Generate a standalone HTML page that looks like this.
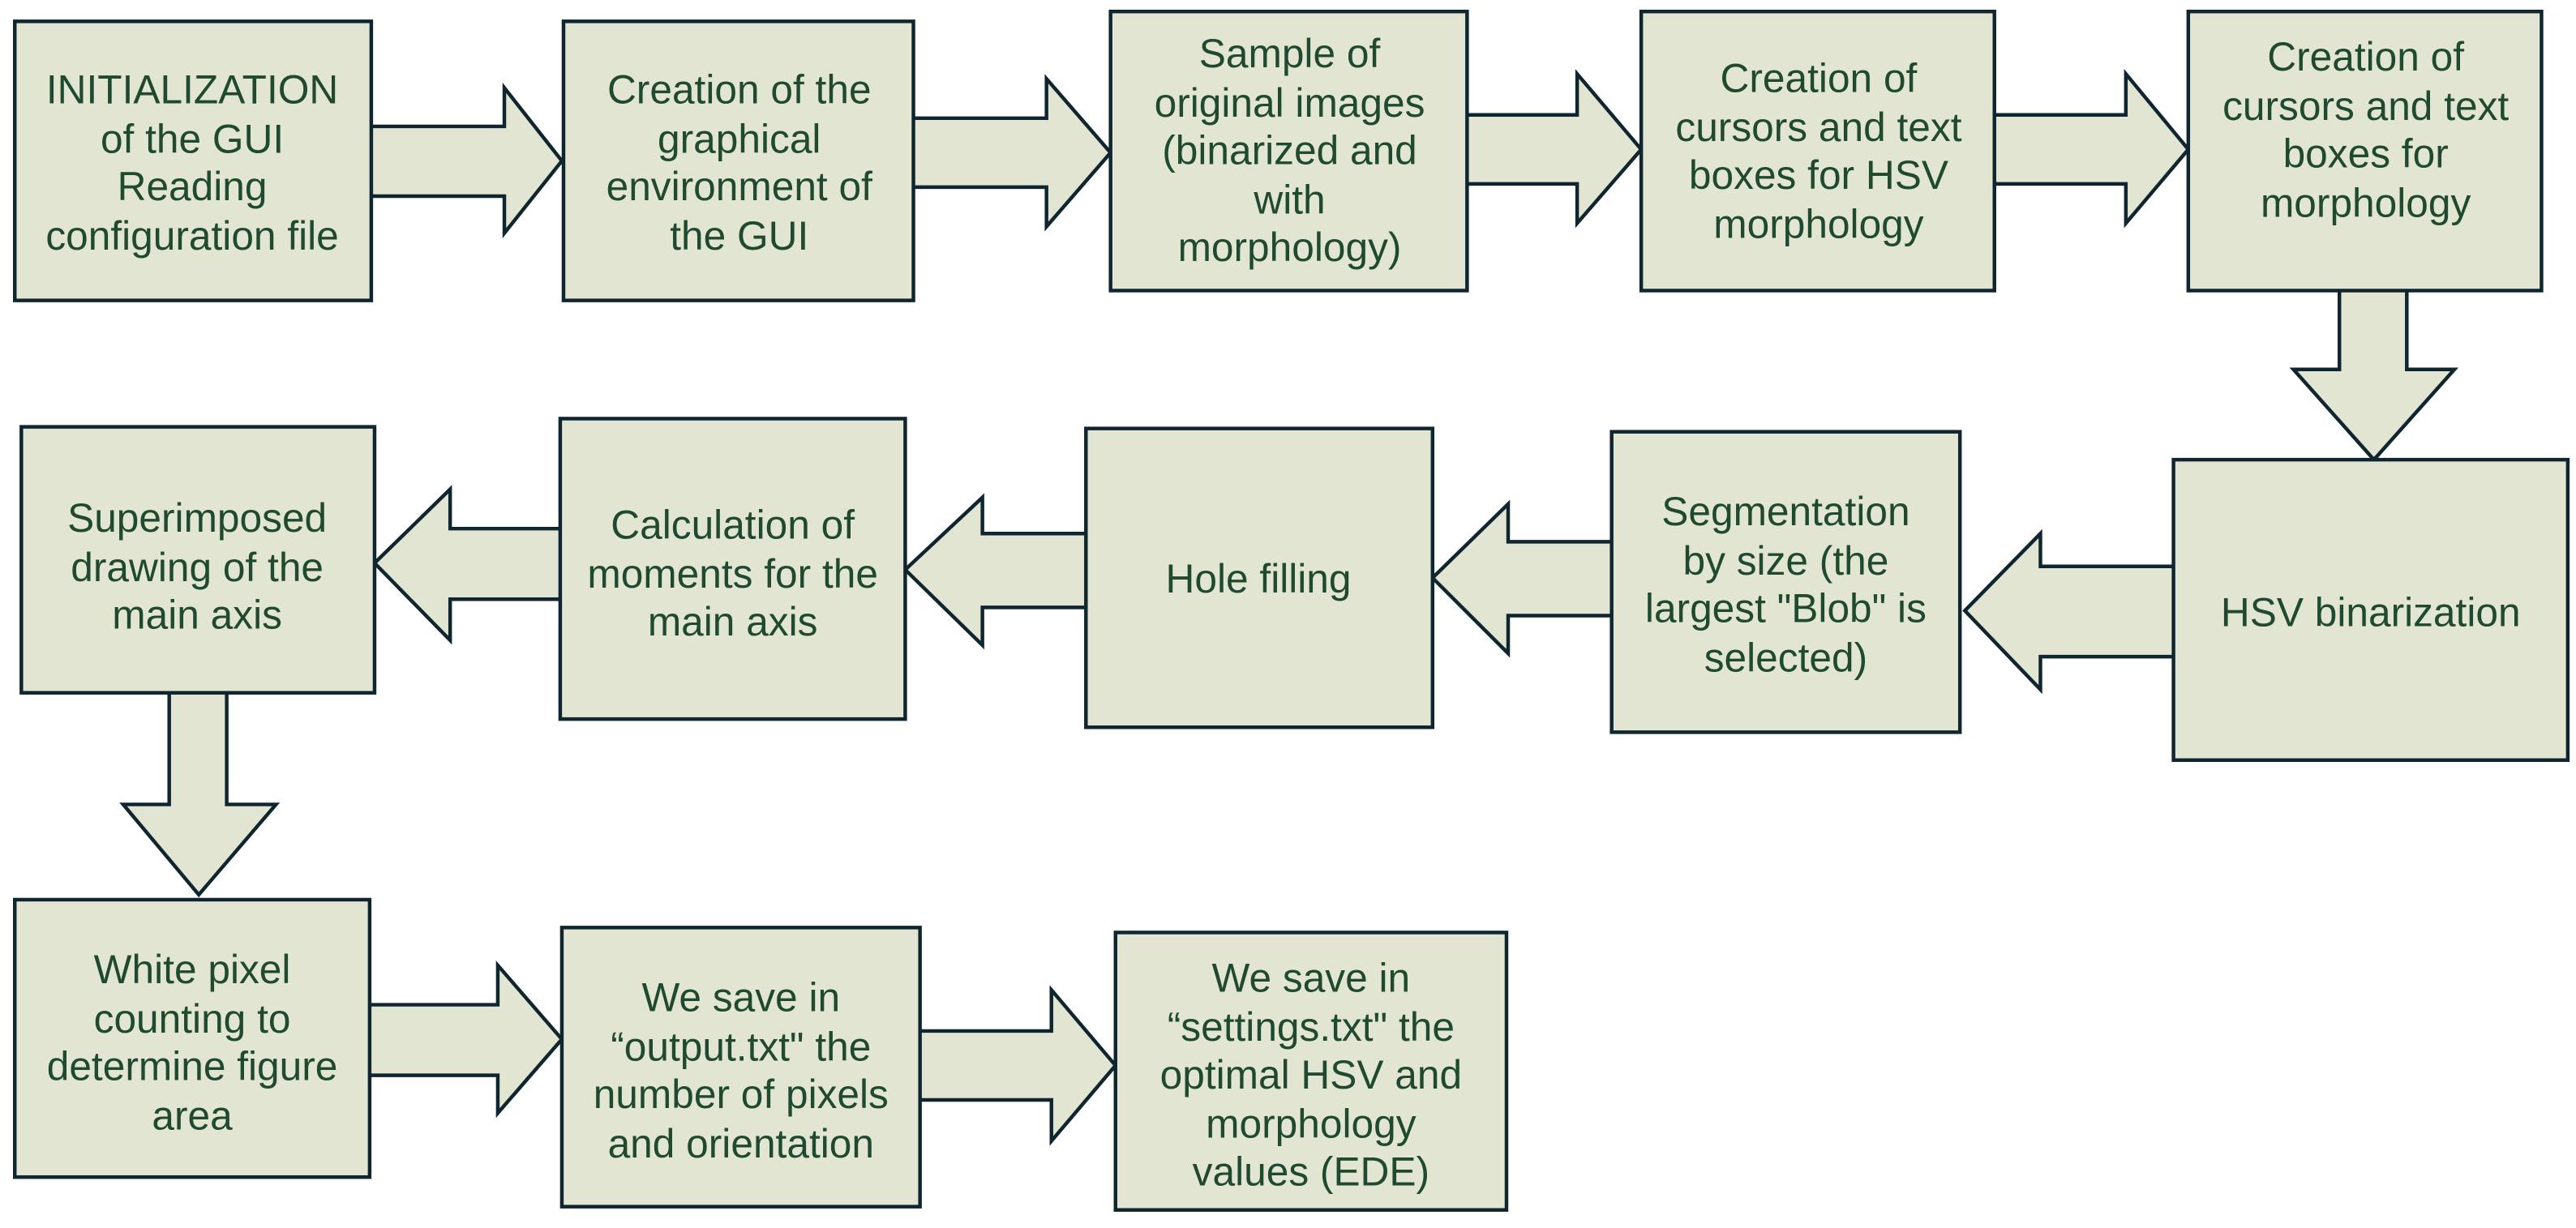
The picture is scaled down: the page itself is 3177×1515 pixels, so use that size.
<!DOCTYPE html>
<html><head><meta charset="utf-8"><style>
html,body{margin:0;padding:0;background:#fff;width:3177px;height:1515px;overflow:hidden}
svg{display:block}
text{font-family:"Liberation Sans",Arial,sans-serif;font-size:24.5px;fill:#1f4a30;text-anchor:middle}
.b{fill:#e3e5d3;stroke:#0f2530;stroke-width:2.2}
</style></head><body>
<svg width="3177" height="1515" viewBox="0 0 1568 748" preserveAspectRatio="none" xmlns="http://www.w3.org/2000/svg">
<polygon class="b" points="220,77 307,77 307,53.5 342,98 307,142 307,119.5 220,119.5"/>
<polygon class="b" points="550,72 637,72 637,48 676,93 637,138 637,114 550,114"/>
<polygon class="b" points="887,70 960,70 960,45 999,91 960,136 960,112 887,112"/>
<polygon class="b" points="1208,70 1294,70 1294,45 1332,91 1294,136 1294,112 1208,112"/>
<polygon class="b" points="1424,171 1465,171 1465,225 1494,225 1445,280 1396,225 1424,225"/>
<polygon class="b" points="1329,345 1242,345 1242,325 1196,372 1242,420 1242,400 1329,400"/>
<polygon class="b" points="987,330 918,330 918,307 872,352 918,398 918,375 987,375"/>
<polygon class="b" points="667,325 598,325 598,303 551,347 598,393 598,370 667,370"/>
<polygon class="b" points="347,322 274,322 274,298 228,343 274,390 274,365 347,365"/>
<polygon class="b" points="103,416 138,416 138,490 168,490 121,545 75,490 103,490"/>
<polygon class="b" points="219,612 303,612 303,588 342,633 303,678 303,655 219,655"/>
<polygon class="b" points="554,628 640,628 640,603 679,649 640,695 640,670 554,670"/>
<rect class="b" x="9" y="13" width="217" height="170"/>
<rect class="b" x="343" y="13" width="213" height="170"/>
<rect class="b" x="676" y="7" width="217" height="170"/>
<rect class="b" x="999" y="7" width="215" height="170"/>
<rect class="b" x="1332" y="7" width="215" height="170"/>
<rect class="b" x="1323" y="280" width="240" height="183"/>
<rect class="b" x="981" y="263" width="212" height="183"/>
<rect class="b" x="661" y="261" width="211" height="182"/>
<rect class="b" x="341" y="255" width="210" height="183"/>
<rect class="b" x="13" y="260" width="215" height="162"/>
<rect class="b" x="9" y="548" width="216" height="169"/>
<rect class="b" x="342" y="565" width="218" height="170"/>
<rect class="b" x="679" y="568" width="238" height="169"/>
<text x="117" y="63">INITIALIZATION</text><text x="117" y="93">of the GUI</text><text x="117" y="122">Reading</text><text x="117" y="152">configuration file</text>
<text x="450" y="63">Creation of the</text><text x="450" y="93">graphical</text><text x="450" y="122">environment of</text><text x="450" y="152">the GUI</text>
<text x="785" y="41">Sample of</text><text x="785" y="71">original images</text><text x="785" y="100">(binarized and</text><text x="785" y="130">with</text><text x="785" y="159">morphology)</text>
<text x="1107" y="56">Creation of</text><text x="1107" y="86">cursors and text</text><text x="1107" y="115">boxes for HSV</text><text x="1107" y="145">morphology</text>
<text x="1440" y="43">Creation of</text><text x="1440" y="73">cursors and text</text><text x="1440" y="102">boxes for</text><text x="1440" y="132">morphology</text>
<text x="1443" y="381.5">HSV binarization</text>
<text x="1087" y="320">Segmentation</text><text x="1087" y="350">by size (the</text><text x="1087" y="379">largest "Blob" is</text><text x="1087" y="409">selected)</text>
<text x="766" y="361">Hole filling</text>
<text x="446" y="328">Calculation of</text><text x="446" y="358">moments for the</text><text x="446" y="387">main axis</text>
<text x="120" y="324">Superimposed</text><text x="120" y="354">drawing of the</text><text x="120" y="383">main axis</text>
<text x="117" y="599">White pixel</text><text x="117" y="629">counting to</text><text x="117" y="658">determine figure</text><text x="117" y="688">area</text>
<text x="451" y="616">We save in</text><text x="451" y="646">“output.txt" the</text><text x="451" y="675">number of pixels</text><text x="451" y="705">and orientation</text>
<text x="798" y="604">We save in</text><text x="798" y="634">“settings.txt" the</text><text x="798" y="663">optimal HSV and</text><text x="798" y="693">morphology</text><text x="798" y="722">values (EDE)</text>
</svg>
</body></html>
